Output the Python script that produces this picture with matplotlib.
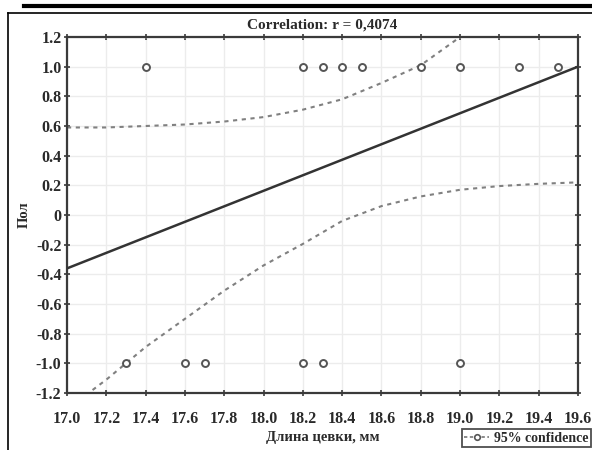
import matplotlib
matplotlib.use("Agg")
import matplotlib.pyplot as plt
from matplotlib.lines import Line2D

# ---- data ----
x_pos = [17.4, 18.2, 18.3, 18.4, 18.5, 18.8, 19.0, 19.3, 19.5]
y_pos = [1.0] * len(x_pos)
x_neg = [17.3, 17.6, 17.7, 18.2, 18.3, 19.0]
y_neg = [-1.0] * len(x_neg)

fit_x = [17.0, 19.6]
fit_y = [-0.36, 1.0]

upper_x = [17.0, 17.2, 17.4, 17.6, 17.8, 18.0, 18.2, 18.4, 18.6, 18.8, 19.0]
upper_y = [0.59, 0.59, 0.60, 0.61, 0.63, 0.66, 0.71, 0.78, 0.89, 1.01, 1.20]
lower_x = [17.13, 17.2, 17.4, 17.6, 17.8, 18.0, 18.2, 18.4, 18.6, 18.8, 19.0, 19.2, 19.4, 19.6]
lower_y = [-1.18, -1.11, -0.89, -0.70, -0.51, -0.34, -0.195, -0.04, 0.06, 0.125, 0.17, 0.195, 0.21, 0.22]

x_ticks = [17.0, 17.2, 17.4, 17.6, 17.8, 18.0, 18.2, 18.4, 18.6, 18.8, 19.0, 19.2, 19.4, 19.6]
x_ticklabels = ["17.0", "17.2", "17.4", "17.6", "17.8", "18.0", "18.2", "18.4",
                "18.6", "18.8", "19.0", "19.2", "19.4", "19.6"]
y_ticks = [1.2, 1.0, 0.8, 0.6, 0.4, 0.2, 0.0, -0.2, -0.4, -0.6, -0.8, -1.0, -1.2]
y_ticklabels = ["1.2", "1.0", "0.8", "0.6", "0.4", "0.2", "0", "-0.2", "-0.4",
                "-0.6", "-0.8", "-1.0", "-1.2"]

title = "Correlation: r = 0,4074"
xlabel = "Длина цевки, мм"
ylabel = "Пол"
legend_label = "95% confidence"

# ---- style ----
plt.rcParams["font.family"] = ["Liberation Serif", "DejaVu Serif"]
plt.rcParams["font.weight"] = "bold"

fig = plt.figure(figsize=(5.92, 4.5), dpi=100)
ax = fig.add_axes([0.1132, 0.1267, 0.8632, 0.7911])

axis_col = "#3a3a3a"
txt_col = "#2a2a2a"
ax.grid(True, color="#ececec", lw=1.0, zorder=0)

ax.plot(upper_x, upper_y, ls=(0, (2.0, 2.2)), color="#808080", lw=1.5, zorder=2)
ax.plot(lower_x, lower_y, ls=(0, (2.0, 2.2)), color="#808080", lw=1.5, zorder=2)
ax.plot(fit_x, fit_y, color="#333333", lw=1.8, zorder=3)
ax.plot(x_pos, y_pos, ls="none", marker="o", ms=5, mfc="white", mec="#555555", mew=1.4, zorder=4)
ax.plot(x_neg, y_neg, ls="none", marker="o", ms=5, mfc="white", mec="#555555", mew=1.4, zorder=4)

ax.set_xlim(17.0, 19.6)
ax.set_ylim(-1.2, 1.2)
ax.set_xticks(x_ticks)
ax.set_xticklabels(x_ticklabels)
ax.set_yticks(y_ticks)
ax.set_yticklabels(y_ticklabels)
ax.tick_params(axis="both", direction="inout", length=4, width=1.2, color=axis_col,
               labelsize=11.5, top=True, right=True, labelcolor=txt_col)
ax.tick_params(axis="x", pad=11)
ax.tick_params(axis="y", pad=2)
for lab in ax.get_xticklabels() + ax.get_yticklabels():
    lab.set_fontweight("bold")
for s in ax.spines.values():
    s.set_color(axis_col)
    s.set_linewidth(1.6)

ax.set_title(title, fontsize=11, fontweight="bold", color=txt_col, pad=6)
ax.set_xlabel(xlabel, fontsize=10.5, fontweight="bold", color=txt_col, labelpad=3)
ax.set_ylabel(ylabel, fontsize=10.5, fontweight="bold", color=txt_col, labelpad=4)

handle = Line2D([], [], ls=(0, (2, 1.5)), color="#777777", lw=1.2, marker="o", ms=4,
                mfc="white", mec="#555555", mew=1.2)
leg = fig.legend([handle], [legend_label], loc="lower right",
                 bbox_to_anchor=(0.998, 0.006), frameon=True, fancybox=False,
                 edgecolor="#222222", fontsize=10, handlelength=1.8, handletextpad=0.3,
                 borderpad=0.2, borderaxespad=0.0, markerscale=1.0)
leg.get_frame().set_linewidth(1.3)
for t in leg.get_texts():
    t.set_fontweight("bold")
    t.set_color(txt_col)

# page frame decoration
fig.add_artist(Line2D([24 / 592, 1.0], [1 - 5.5 / 450, 1 - 5.5 / 450], color="black", lw=3,
                      transform=fig.transFigure))
fig.add_artist(Line2D([8 / 592, 1.0], [1 - 12.5 / 450, 1 - 12.5 / 450], color="black", lw=1.2,
                      transform=fig.transFigure))
fig.add_artist(Line2D([8 / 592, 8 / 592], [0.0, 1 - 12.5 / 450], color="black", lw=1.2,
                      transform=fig.transFigure))

fig.savefig("out.png", dpi=100, facecolor="white")
